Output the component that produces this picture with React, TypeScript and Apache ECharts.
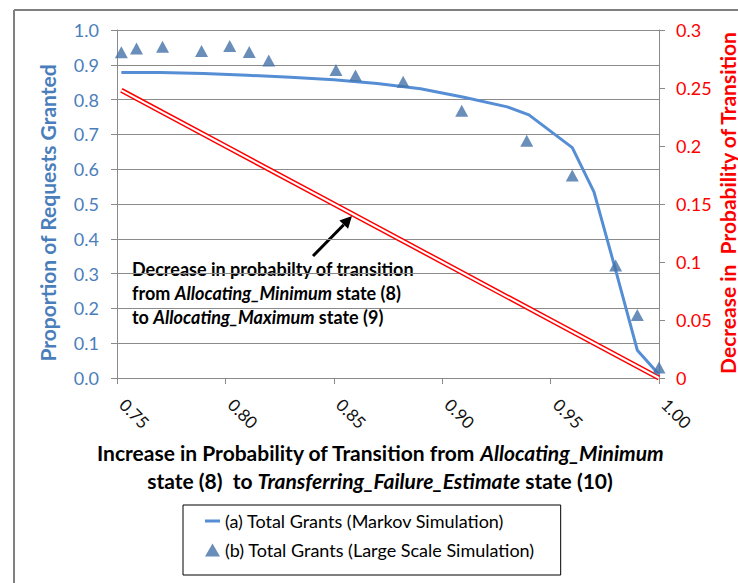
import React, { useEffect, useRef } from "react";
import * as echarts from "echarts";

const xTicksMin = 0.75;
const xTicksMax = 1.0;

const markovX = [0.752, 0.77, 0.79, 0.81, 0.83, 0.85, 0.87, 0.89, 0.91, 0.93, 0.94, 0.96, 0.97, 0.98, 0.99, 1.0];
const markovY = [0.878, 0.878, 0.875, 0.87, 0.864, 0.857, 0.846, 0.831, 0.807, 0.779, 0.756, 0.662, 0.535, 0.31, 0.08, 0.01];

const scatterX = [0.752, 0.759, 0.771, 0.789, 0.802, 0.811, 0.82, 0.851, 0.86, 0.882, 0.909, 0.939, 0.96, 0.98, 0.99, 1.0];
const scatterY = [0.936, 0.947, 0.952, 0.94, 0.954, 0.937, 0.912, 0.885, 0.869, 0.851, 0.768, 0.682, 0.582, 0.323, 0.181, 0.03];

const decreaseX = [0.752, 0.8, 0.85, 0.9, 0.95, 1.0];
const decreaseY = [0.248, 0.2, 0.15, 0.1, 0.05, 0.0];

const seriesNames = ["(a) Total Grants (Markov Simulation)", "(b) Total Grants (Large Scale Simulation)"];

const FONT = "Lato, 'Open Sans', sans-serif";
const GRID = "#8a8a8a";

export default function App() {
  const ref = useRef<HTMLDivElement>(null);
  useEffect(() => {
    document.body.style.margin = "0";
    const chart = echarts.init(ref.current!, null, { renderer: "svg" });
    const zip = (xs: number[], ys: number[]) => xs.map((x, i) => [x, ys[i]]);
    const tipX = 352, tipY = 216;
    const dx = 0.689, dy = -0.725;
    const bx = tipX - 12 * dx, by = tipY - 12 * dy;
    chart.setOption({
      animation: false,
      backgroundColor: "#fff",
      grid: { left: 117, right: 79, top: 30, bottom: 205, containLabel: false },
      xAxis: {
        type: "value",
        min: xTicksMin,
        max: xTicksMax,
        interval: 0.05,
        axisLine: { show: true, lineStyle: { color: GRID, width: 1 } },
        axisTick: { show: true, length: 6, lineStyle: { color: GRID } },
        splitLine: { show: false },
        axisLabel: {
          rotate: -45,
          margin: 18,
          padding: [0, 0, 0, 8],
          fontSize: 17,
          fontFamily: FONT,
          color: "#111",
          showMinLabel: true,
          showMaxLabel: true,
          formatter: (v: number) => v.toFixed(2),
        },
      },
      yAxis: [
        {
          type: "value",
          min: 0,
          max: 1,
          interval: 0.1,
          axisLine: { show: true, lineStyle: { color: GRID, width: 1 } },
          axisTick: { show: true, length: 6, lineStyle: { color: GRID } },
          splitLine: { show: true, lineStyle: { color: GRID, width: 1 } },
          axisLabel: {
            margin: 18,
            fontSize: 18,
            fontFamily: FONT,
            color: "#4a7ebb",
            formatter: (v: number) => v.toFixed(1),
          },
        },
        {
          type: "value",
          min: 0,
          max: 0.3,
          interval: 0.05,
          position: "right",
          axisLine: { show: true, lineStyle: { color: GRID, width: 1 } },
          axisTick: { show: true, length: 6, lineStyle: { color: GRID } },
          splitLine: { show: false },
          axisLabel: {
            margin: 17,
            fontSize: 18,
            fontFamily: FONT,
            color: "#ff0000",
            formatter: (v: number) => String(Math.round(v * 100) / 100),
          },
        },
      ],
      legend: {
        orient: "vertical",
        left: 183,
        top: 505,
        data: [
          { name: seriesNames[0], icon: "path://M0,0 L15,0 L15,3 L0,3 Z" },
          { name: seriesNames[1], icon: "triangle" },
        ],
        itemWidth: 15,
        itemHeight: 13,
        itemGap: 11,
        padding: [7, 26, 16, 22],
        borderColor: "#000",
        borderWidth: 1,
        textStyle: { fontSize: 18, fontFamily: FONT, color: "#000" },
      },
      series: [
        {
          type: "line",
          name: "decrease-outer",
          yAxisIndex: 1,
          data: zip(decreaseX, decreaseY),
          symbol: "none",
          lineStyle: { color: "#ff0000", width: 5 },
          z: 2,
        },
        {
          type: "line",
          name: "decrease-inner",
          yAxisIndex: 1,
          data: zip(decreaseX, decreaseY),
          symbol: "none",
          lineStyle: { color: "#ffffff", width: 2 },
          z: 3,
        },
        {
          type: "line",
          name: seriesNames[0],
          data: zip(markovX, markovY),
          symbol: "none",
          itemStyle: { color: "#558ed5" },
          lineStyle: { color: "#558ed5", width: 3 },
          z: 4,
        },
        {
          type: "scatter",
          name: seriesNames[1],
          data: zip(scatterX, scatterY),
          symbol: "triangle",
          symbolSize: [13, 12],
          itemStyle: { color: "#4472a8" },
          z: 5,
        },
      ],
      graphic: [
        { type: "line", shape: { x1: 14, y1: 10, x2: 738, y2: 10 }, style: { stroke: "#808080", lineWidth: 2 } },
        { type: "line", shape: { x1: 14, y1: 10, x2: 14, y2: 583 }, style: { stroke: "#808080", lineWidth: 2 } },
        {
          type: "text",
          x: 47,
          y: 213,
          rotation: Math.PI / 2,
          style: {
            text: "Proportion of Requests Granted",
            font: `bold 21px ${FONT}`,
            fill: "#4a7ebb",
            textAlign: "center",
            textVerticalAlign: "middle",
          },
        },
        {
          type: "text",
          x: 727,
          y: 203,
          rotation: Math.PI / 2,
          style: {
            text: "Decrease in  Probability of Transition",
            font: `bold 21px ${FONT}`,
            fill: "#ff0000",
            textAlign: "center",
            textVerticalAlign: "middle",
          },
        },
        {
          type: "text",
          x: 380,
          y: 466,
          style: {
            text: "Increase in Probability of Transition from {i|Allocating_Minimum}\nstate (8)  to {i|Transferring_Failure_Estimate} state (10)",
            font: `bold 21px ${FONT}`,
            fill: "#000",
            textAlign: "center",
            textVerticalAlign: "middle",
            lineHeight: 28,
            rich: {
              i: { font: `italic bold 21px ${FONT}`, fill: "#000", lineHeight: 28 },
            },
          },
        },
        {
          type: "text",
          x: 132,
          y: 293,
          style: {
            text: "Decrease in probabilty of transition\nfrom {i|Allocating_Minimum} state (8)\nto {i|Allocating_Maximum} state (9)",
            font: `bold 18px ${FONT}`,
            fill: "#000",
            textAlign: "left",
            textVerticalAlign: "middle",
            lineHeight: 24,
            rich: {
              i: { font: `italic bold 18px ${FONT}`, fill: "#000", lineHeight: 24 },
            },
          },
        },
        {
          type: "line",
          shape: { x1: 313, y1: 256, x2: bx, y2: by },
          style: { stroke: "#000", lineWidth: 3 },
        },
        {
          type: "polygon",
          shape: {
            points: [
              [tipX, tipY],
              [bx + 6 * 0.725, by + 6 * 0.689],
              [bx - 6 * 0.725, by - 6 * 0.689],
            ],
          },
          style: { fill: "#000" },
        },
      ],
    });
    return () => chart.dispose();
  }, []);
  return <div ref={ref} style={{ width: 738, height: 583 }} />;
}
